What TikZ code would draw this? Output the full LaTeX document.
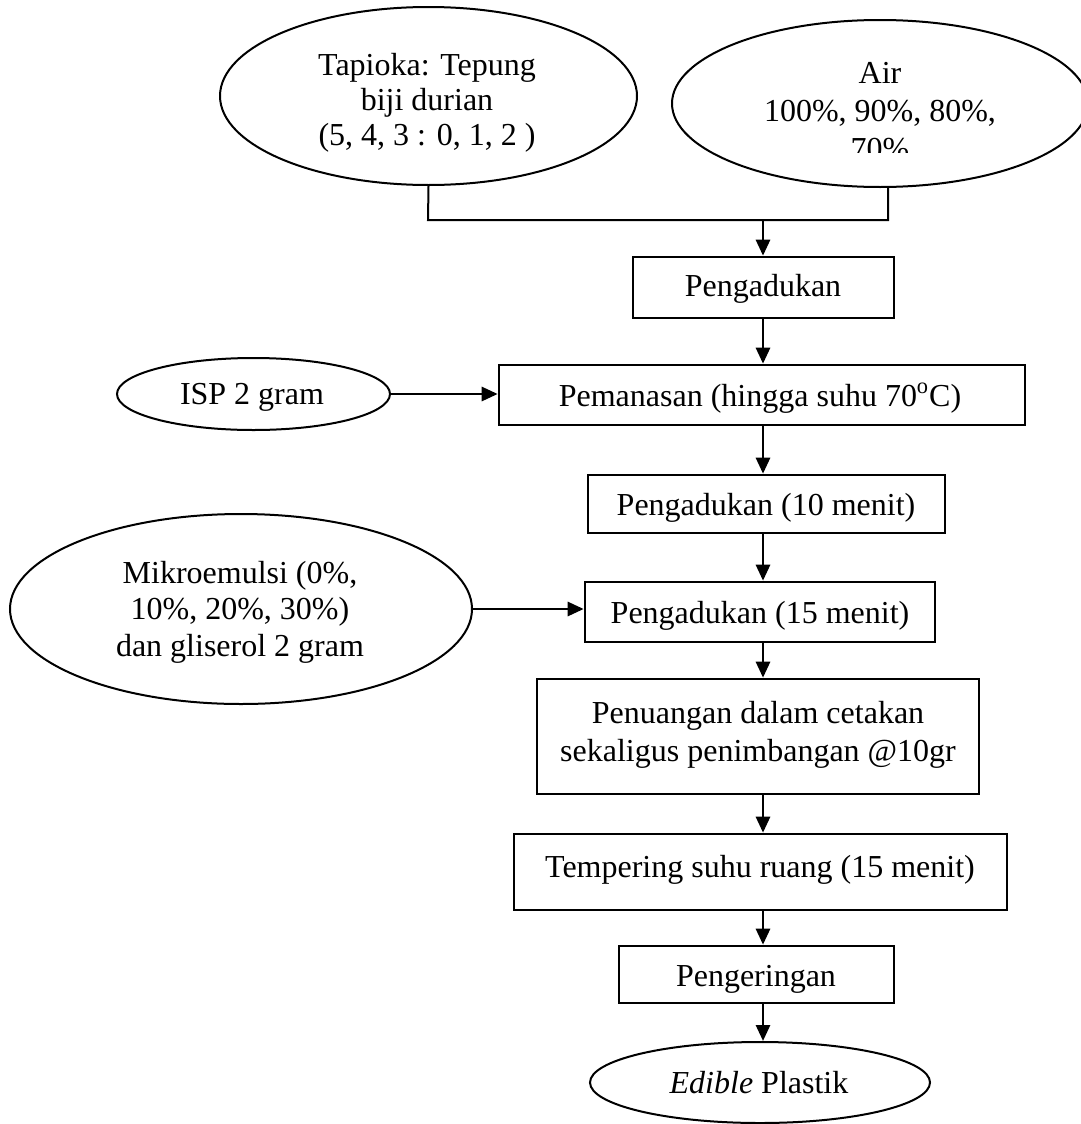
\documentclass[tikz,border=0pt]{standalone}
\usepackage{fontspec}
\setmainfont{Liberation Serif}
\usetikzlibrary{shapes.geometric,arrows.meta}
\newcommand{\mlines}[2]{{\fontsize{16}{#1}\selectfont\begin{tabular}[t]{@{}c@{}}#2\end{tabular}}}
\tikzset{
  boxn/.style={draw, line width=1.3pt, inner sep=0pt},
  elln/.style={draw, ellipse, line width=1pt, inner sep=0pt},
  txt/.style={anchor=base, inner sep=0pt, font=\fontsize{16}{18}\selectfont},
  arr/.style={-{Triangle[length=8pt,width=7pt]}, line width=1.4pt},
  joinln/.style={line width=1pt}
}
\begin{document}
\begin{tikzpicture}[x=0.5pt,y=-0.5pt]
\useasboundingbox (0,0) rectangle (1081,1124);
\coordinate (sp) at (763,0);

% inputs at the top
\node[elln, minimum width=208.5pt, minimum height=89pt] (tap) at (428.5,96) {};
\node[txt] (tapt) at (427,75) {\mlines{17.75pt}{Tapioka: Tepung\\biji durian\\(5, 4, 3 : 0, 1, 2 )}};
\node[elln, minimum width=208pt, minimum height=83.5pt] (air) at (880,103.5) {};
\begin{scope}
  \clip (660,0) rectangle (1081,152);
  \node[txt] (airt) at (880,83) {\mlines{19pt}{Air\\100\%, 90\%, 80\%,\\70\%}};
\end{scope}

\coordinate (j1) at (428,220);
\coordinate (j2) at (888,220);
\coordinate (jm) at (763,220);
\draw[joinln] (tap.south) -- (j1) -- (j2) -- (air.south -| j2);

% process boxes
\node[boxn, minimum width=130.5pt, minimum height=30.5pt] (p1) at (763.5,287.5) {};
\node[txt] (p1t) at (763,296) {Pengadukan};

\node[boxn, minimum width=263pt, minimum height=30pt] (pem) at (762,395) {};
\node[txt] (pemt) at (760,406) {Pemanasan (hingga suhu 70\textsuperscript{o}C)};

\node[elln, minimum width=136.5pt, minimum height=36pt] (isp) at (253.5,394) {};
\node[txt] (ispt) at (252,404) {ISP 2 gram};

\node[boxn, minimum width=178.5pt, minimum height=29pt] (b10) at (766.5,504) {};
\node[txt] (b10t) at (766,515) {Pengadukan (10 menit)};

\node[boxn, minimum width=175pt, minimum height=30pt] (b15) at (760,612) {};
\node[txt] (b15t) at (760,623) {Pengadukan (15 menit)};

\node[elln, minimum width=231pt, minimum height=95pt] (mik) at (241,609) {};
\node[txt] (mikt) at (240,583) {\mlines{18.25pt}{Mikroemulsi (0\%,\\10\%, 20\%, 30\%)\\dan gliserol 2 gram}};

\node[boxn, minimum width=221pt, minimum height=57.5pt] (pen) at (758,736.5) {};
\node[txt] (pent) at (758,723) {\mlines{19pt}{Penuangan dalam cetakan\\sekaligus penimbangan @10gr}};

\node[boxn, minimum width=246.5pt, minimum height=38pt] (tem) at (760.5,872) {};
\node[txt] (temt) at (760,877) {Tempering suhu ruang (15 menit)};

\node[boxn, minimum width=137.5pt, minimum height=28.5pt] (ker) at (756.5,974.5) {};
\node[txt] (kert) at (756,986) {Pengeringan};

\node[elln, minimum width=170pt, minimum height=40.5pt] (edi) at (760,1082.5) {};
\node[txt] (edit) at (759,1093) {\textit{Edible} Plastik};

% connectors
\draw[arr] (jm) -- (p1.north -| sp);
\draw[arr] (p1.south -| sp) -- (pem.north -| sp);
\draw[arr] (isp.east) -- (isp.east -| pem.west);
\draw[arr] (pem.south -| sp) -- (b10.north -| sp);
\draw[arr] (b10.south -| sp) -- (b15.north -| sp);
\draw[arr] (mik.east) -- (mik.east -| b15.west);
\draw[arr] (b15.south -| sp) -- (pen.north -| sp);
\draw[arr] (pen.south -| sp) -- (tem.north -| sp);
\draw[arr] (tem.south -| sp) -- (ker.north -| sp);
\draw[arr] (ker.south -| sp) -- (edi.north -| sp);
\end{tikzpicture}
\end{document}
